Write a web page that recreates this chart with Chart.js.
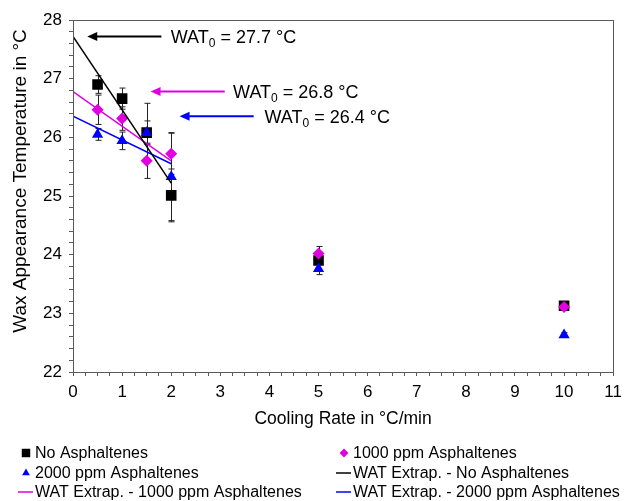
<!DOCTYPE html>
<html>
<head>
<meta charset="utf-8">
<script src="https://cdn.jsdelivr.net/npm/chart.js@4"></script>
<style>
  html, body { margin: 0; padding: 0; background: #fff; }
  #wrap { width: 628px; height: 501px; }
</style>
</head>
<body>
<div id="wrap"><canvas id="watChart"></canvas></div>
<script>
// measured points (cooling rate in °C/min -> WAT in °C)
const coolingRates = [0.5, 1, 1.5, 2, 5, 10];
const watNoAsph = [26.90, 26.66, 26.08, 25.01, 23.90, 23.13];
const wat1000 = [26.47, 26.32, 25.60, 25.72, 24.02, 23.11];
const wat2000 = [26.05, 25.94, 26.08, 25.33, 23.76, 22.63];
// error bar half widths
const errNoAsph = [0.15, 0.18, 0.50, 0.45, 0.05, 0.04];
const err1000 = [0.25, 0.20, 0.30, 0.35, 0.12, 0.05];
const err2000 = [0.10, 0.15, 0.20, 0.75, 0.10, 0.04];
// extrapolation lines to 0 °C/min
const extrapRates = [0, 2];
const extrapNoAsph = [27.72, 25.22];
const extrap1000 = [26.78, 25.60];
const extrap2000 = [26.36, 25.55];

const BLACK = '#000000', MAGENTA = '#e000e0', BLUE = '#0000ff', AXIS = '#595959';
const FONT = '"Liberation Sans", Arial, sans-serif';
const Y_TITLE = 'Wax Appearance Temperature in °C';

Chart.defaults.font.family = FONT;
Chart.defaults.color = '#000';

const toPoints = (xs, ys) => xs.map((x, i) => ({ x: x, y: ys[i] }));
const intLabel = v => Math.abs(v - Math.round(v)) < 1e-6 ? String(Math.round(v)) : '';

// error bars under the markers
const errorBars = {
    id: 'errorBars',
    beforeDatasetsDraw(chart) {
        const { ctx, scales: { x, y } } = chart;
        ctx.save();
        ctx.strokeStyle = '#222';
        ctx.lineWidth = 1;
        chart.data.datasets.forEach(ds => {
            if (!ds.errors) return;
            ds.data.forEach((p, i) => {
                const e = ds.errors[i];
                const px = Math.round(x.getPixelForValue(p.x)) + 0.5;
                const top = y.getPixelForValue(p.y + e);
                const bot = y.getPixelForValue(p.y - e);
                ctx.beginPath();
                ctx.moveTo(px, top); ctx.lineTo(px, bot);
                ctx.moveTo(px - 3, top); ctx.lineTo(px + 3, top);
                ctx.moveTo(px - 3, bot); ctx.lineTo(px + 3, bot);
                ctx.stroke();
            });
        });
        ctx.restore();
    }
};

// box round the plot area, plus the y title (sits a bit above centre in the original)
const plotBox = {
    id: 'plotBox',
    afterDatasetsDraw(chart) {
        const { ctx, chartArea: a } = chart;
        ctx.save();
        ctx.strokeStyle = AXIS;
        ctx.lineWidth = 1;
        ctx.strokeRect(Math.round(a.left) + 0.5, Math.round(a.top) + 0.5,
            Math.round(a.right - a.left), Math.round(a.bottom - a.top));

        ctx.translate(21, 181);
        ctx.rotate(-Math.PI / 2);
        ctx.font = '19px ' + FONT;
        ctx.fillStyle = '#000';
        ctx.textAlign = 'center';
        ctx.textBaseline = 'middle';
        ctx.fillText(Y_TITLE, 0, 0);
        ctx.restore();
    }
};

// arrows + "WAT0 = ..." labels
const watNotes = {
    id: 'watNotes',
    afterDatasetsDraw(chart, args, opts) {
        const { ctx, scales: { x, y } } = chart;
        opts.items.forEach(n => {
            const yy = y.getPixelForValue(n.value);
            const x1 = x.getPixelForValue(n.from), x2 = x.getPixelForValue(n.to);
            ctx.save();
            ctx.strokeStyle = n.color;
            ctx.fillStyle = n.color;
            ctx.lineWidth = 2;
            ctx.beginPath();
            ctx.moveTo(x1 + 8, yy); ctx.lineTo(x2, yy);
            ctx.stroke();
            ctx.beginPath();
            ctx.moveTo(x1, yy); ctx.lineTo(x1 + 10, yy - 4.5); ctx.lineTo(x1 + 10, yy + 4.5);
            ctx.closePath();
            ctx.fill();

            let tx = x.getPixelForValue(n.textAt);
            const base = yy + 6.5;
            ctx.fillStyle = '#000';
            ctx.font = '18px ' + FONT;
            ctx.fillText('WAT', tx, base);
            tx += ctx.measureText('WAT').width;
            ctx.font = '12px ' + FONT;
            ctx.fillText('0', tx, base + 4);
            tx += ctx.measureText('0').width;
            ctx.font = '18px ' + FONT;
            ctx.fillText(' = ' + n.value.toFixed(1) + ' °C', tx, base);
            ctx.restore();
        });
    }
};

// two-column legend under the x axis
const gridLegend = {
    id: 'gridLegend',
    afterDraw(chart, args, opts) {
        const ctx = chart.ctx;
        ctx.save();
        ctx.font = '16px ' + FONT;
        ctx.textBaseline = 'middle';
        chart.data.datasets.forEach((ds, i) => {
            const left = opts.columns[i % 2];
            const cy = opts.rows[Math.floor(i / 2)];
            if (ds.showLine) {
                ctx.strokeStyle = ds.borderColor;
                ctx.lineWidth = 1.5;
                ctx.beginPath();
                ctx.moveTo(left, cy); ctx.lineTo(left + 15, cy);
                ctx.stroke();
            } else {
                ctx.fillStyle = ds.backgroundColor;
                Chart.helpers.drawPoint(ctx, {
                    pointStyle: ds.pointStyle, radius: ds.pointStyle === 'rect' ? 6 : 4.5,
                    rotation: 0, borderWidth: 0
                }, left + 8, cy);
            }
            ctx.fillStyle = '#000';
            ctx.fillText(ds.label, left + 17, cy + 1);
        });
        ctx.restore();
    }
};

const markerSet = (label, ys, errs, style, radius, color, order) => ({
    label: label,
    data: toPoints(coolingRates, ys),
    errors: errs,
    showLine: false,
    pointStyle: style,
    pointRadius: radius,
    pointHoverRadius: radius,
    pointBorderWidth: 0,
    backgroundColor: color,
    borderColor: color,
    order: order
});

const lineSet = (label, ys, color) => ({
    label: label,
    data: toPoints(extrapRates, ys),
    showLine: true,
    pointRadius: 0,
    borderColor: color,
    backgroundColor: color,
    borderWidth: 1.5,
    order: 0
});

new Chart(document.getElementById('watChart'), {
    type: 'scatter',
    data: {
        datasets: [
            markerSet('No Asphaltenes', watNoAsph, errNoAsph, 'rect', 7.5, BLACK, 3),
            markerSet('1000 ppm Asphaltenes', wat1000, err1000, 'rectRot', 6, MAGENTA, 2),
            markerSet('2000 ppm Asphaltenes', wat2000, err2000, 'triangle', 6.5, BLUE, 1),
            lineSet('WAT Extrap. - No Asphaltenes', extrapNoAsph, BLACK),
            lineSet('WAT Extrap. - 1000 ppm Asphaltenes', extrap1000, MAGENTA),
            lineSet('WAT Extrap. - 2000 ppm Asphaltenes', extrap2000, BLUE)
        ]
    },
    options: {
        responsive: true,
        maintainAspectRatio: false,
        animation: false,
        layout: { padding: { top: 20, right: 9, left: 0, bottom: 71 } },
        scales: {
            x: {
                type: 'linear',
                min: 0,
                max: 11,
                ticks: { stepSize: 0.25, autoSkip: false, maxRotation: 0, padding: 6,
                         font: { size: 17 }, color: '#000', callback: intLabel },
                grid: { drawOnChartArea: false, drawTicks: true, tickLength: 4, tickColor: AXIS },
                border: { color: AXIS, width: 1 },
                title: { display: true, text: 'Cooling Rate in °C/min', color: '#000',
                         font: { size: 17.5 }, padding: { top: 0, bottom: 0 } },
                afterFit: s => { s.height = 58; }
            },
            y: {
                min: 22,
                max: 28,
                ticks: { stepSize: 0.2, autoSkip: false, padding: 7,
                         font: { size: 17 }, color: '#000', callback: intLabel },
                grid: { drawOnChartArea: false, drawTicks: true, tickLength: 4, tickColor: AXIS },
                border: { color: AXIS, width: 1 },
                title: { display: false },
                afterFit: s => { s.width = 73; }
            }
        },
        plugins: {
            legend: { display: false },
            tooltip: { enabled: false },
            watNotes: {
                items: [
                    { value: extrapNoAsph[0], from: 0.29, to: 1.8, textAt: 1.99, color: BLACK },
                    { value: extrap1000[0], from: 1.58, to: 3.09, textAt: 3.26, color: MAGENTA },
                    { value: extrap2000[0], from: 2.17, to: 3.68, textAt: 3.9, color: BLUE }
                ]
            },
            gridLegend: { columns: [18, 336], rows: [453, 473, 492] }
        }
    },
    plugins: [errorBars, plotBox, watNotes, gridLegend]
});
</script>
</body>
</html>
